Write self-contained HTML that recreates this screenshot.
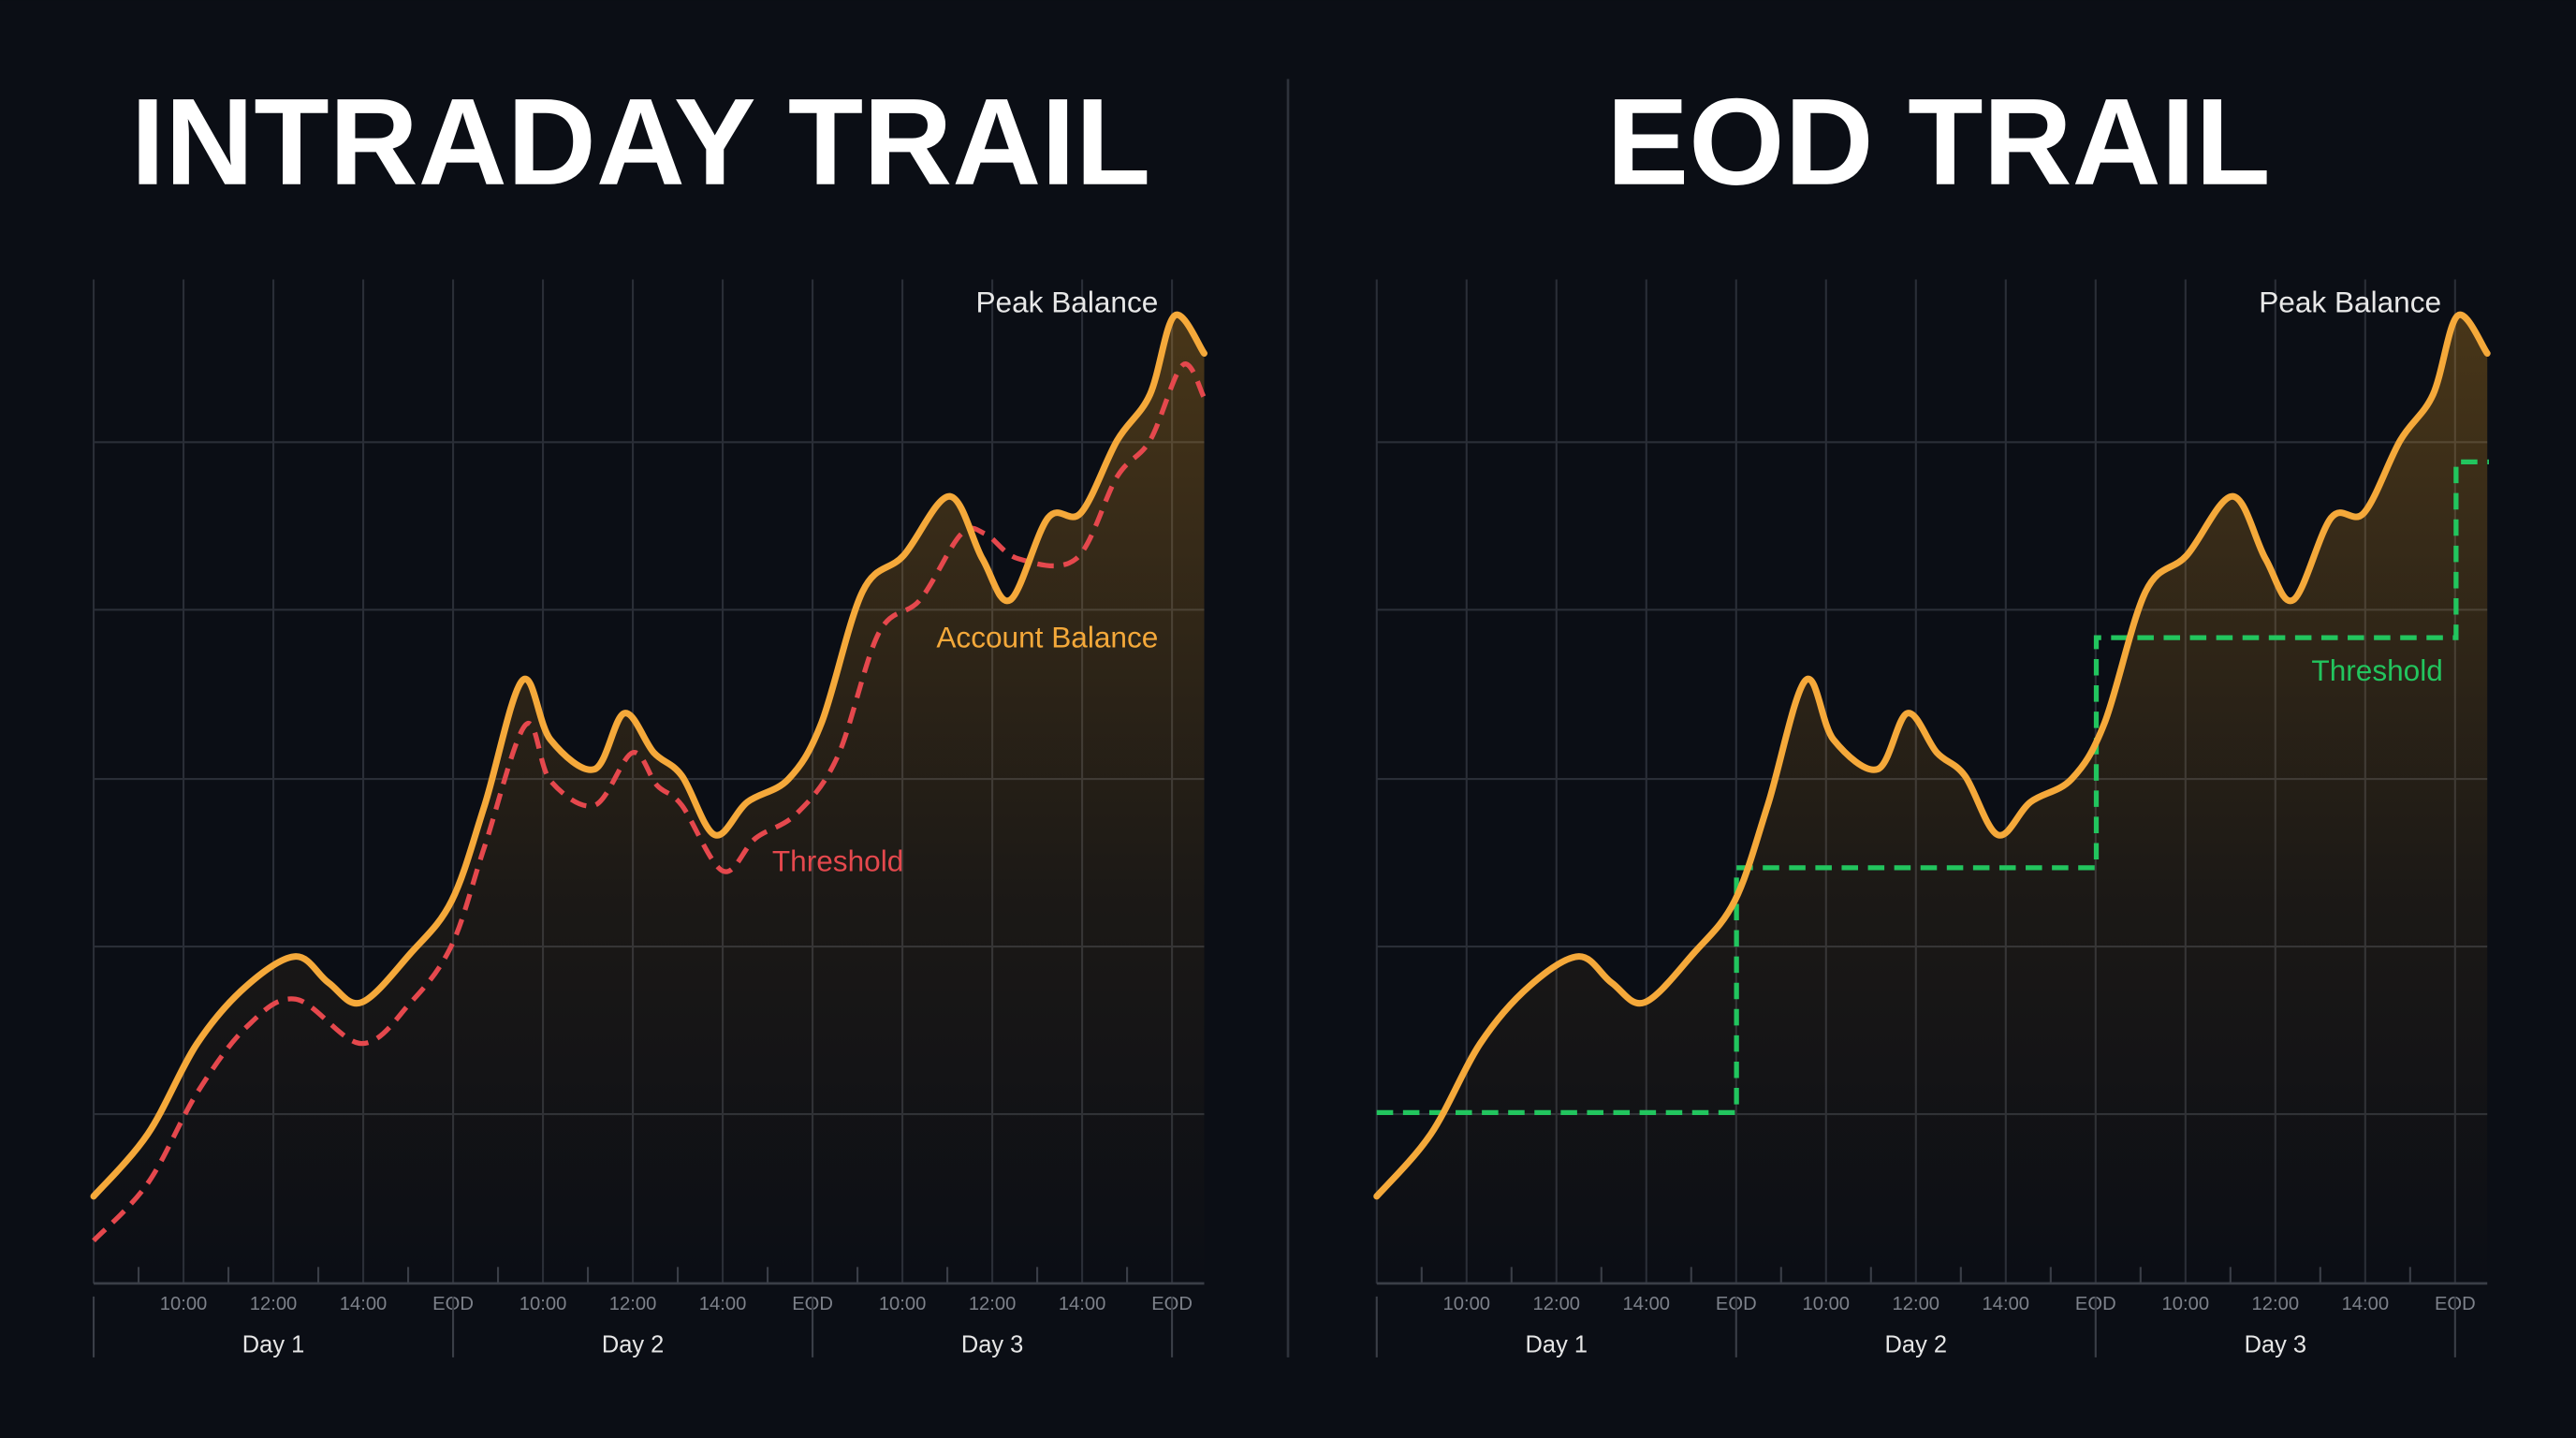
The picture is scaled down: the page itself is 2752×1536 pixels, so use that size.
<!DOCTYPE html>
<html><head><meta charset="utf-8"><style>
html,body{margin:0;padding:0;background:#0b0e15;}
svg{display:block}
text{font-family:"Liberation Sans",sans-serif}
</style></head><body>
<svg id="s" width="2752" height="1536" viewBox="0 0 1568 875" xmlns="http://www.w3.org/2000/svg">
<defs>
<linearGradient id="g" x1="0" y1="0" x2="0" y2="1">
<stop offset="0" stop-color="#f5a623" stop-opacity="0.26"/>
<stop offset="0.6" stop-color="#f5a623" stop-opacity="0.07"/>
<stop offset="1" stop-color="#f5a623" stop-opacity="0"/>
</linearGradient>
</defs>
<rect width="1568" height="875" fill="#0b0e15"/>
<line x1="784" y1="48" x2="784" y2="826" stroke="#2e323b" stroke-width="1.5"/>
<text x="390" y="112" text-anchor="middle" font-size="75" font-weight="bold" fill="#fff">INTRADAY TRAIL</text>
<text x="1180" y="112" text-anchor="middle" font-size="75" font-weight="bold" fill="#fff">EOD TRAIL</text>
<g id="charts"></g>
</svg>
<script>
var NS="http://www.w3.org/2000/svg";
var G=document.getElementById("charts");
function el(t,a,p){var e=document.createElementNS(NS,t);for(var k in a)e.setAttribute(k,a[k]);(p||G).appendChild(e);return e;}
function cr(pts){var d="M"+pts[0][0]+","+pts[0][1];for(var i=0;i<pts.length-1;i++){var p0=pts[i-1]||pts[i],p1=pts[i],p2=pts[i+1],p3=pts[i+2]||p2;
var c1x=p1[0]+(p2[0]-p0[0])/6,c1y=p1[1]+(p2[1]-p0[1])/6,c2x=p2[0]-(p3[0]-p1[0])/6,c2y=p2[1]-(p3[1]-p1[1])/6;
d+=" C"+c1x.toFixed(1)+","+c1y.toFixed(1)+" "+c2x.toFixed(1)+","+c2y.toFixed(1)+" "+p2[0]+","+p2[1];}return d;}
var bal=[[57,728],[90,690],[120,635],[150,600],[180,582],[200,598],[220,610],[250,580],[275,548],[295,490],[318,414],[335,450],[362,468],[380,434],[398,458],[415,472],[435,508],[455,488],[480,474],[500,440],[525,360],[550,338],[578,302],[598,340],[615,365],[638,315],[658,312],[680,268],[700,240],[715,192],[733,215]];
var thr=[[57,755],[90,720],[120,665],[150,625],[180,608],[220,635],[250,610],[275,575],[295,515],[320,441],[335,475],[362,490],[385,458],[400,478],[415,490],[440,530],[460,510],[485,495],[510,460],[535,385],[560,365],[585,325],[600,325],[620,340],[655,340],[680,290],[700,268],[720,222],[733,242]];
function chart(off,right){
 var x0=57+off,x1=733+off;
 var xs=[];for(var i=0;i<=12;i++)xs.push(57+off+i*54.7);
 [269,371,474,576,678].forEach(function(y){el("line",{x1:x0,y1:y,x2:x1,y2:y,stroke:"#2a2e37","stroke-width":1.2});});
 xs.forEach(function(x){el("line",{x1:x,y1:170,x2:x,y2:781,stroke:"#2a2e37","stroke-width":1.2});});
 el("line",{x1:x0,y1:781,x2:x1,y2:781,stroke:"#3a3e47","stroke-width":1.5});
 for(var i=0;i<12;i++){var x=xs[i]+27.35;el("line",{x1:x,y1:771,x2:x,y2:781,stroke:"#3a3e47","stroke-width":1.2});}
 var lab=["10:00","12:00","14:00","EOD"];
 for(var i=1;i<=12;i++){var t=el("text",{x:xs[i],y:797,"text-anchor":"middle","font-size":11.5,fill:"#7d818a"});t.textContent=lab[(i-1)%4];}
 [0,4,8,12].forEach(function(k){el("line",{x1:xs[k],y1:789,x2:xs[k],y2:826,stroke:"#3a3e47","stroke-width":1.2});});
 ["Day 1","Day 2","Day 3"].forEach(function(s,k){var t=el("text",{x:(xs[k*4]+xs[k*4+4])/2,y:823,"text-anchor":"middle","font-size":14.5,fill:"#e6e6e6"});t.textContent=s;});
 var b=bal.map(function(p){return[p[0]+off,p[1]];});
 var d=cr(b);
 el("path",{d:d+" L"+x1+",781 L"+x0+",781 Z",fill:"url(#g)"});
 if(!right){
  el("path",{d:cr(thr),fill:"none",stroke:"#e5484d","stroke-width":3,"stroke-dasharray":"10 6"});
 } else {
  el("path",{d:"M838,677 L1057,677 L1057,528 L1276,528 L1276,388 L1495,388 L1495,281 L1515,281",fill:"none",stroke:"#22c55e","stroke-width":3,"stroke-dasharray":"10 6"});
 }
 el("path",{d:d,fill:"none",stroke:"#f5a93a","stroke-width":4,"stroke-linecap":"round"});
 var t=el("text",{x:x1-28,y:190,"text-anchor":"end","font-size":18,fill:"#e8e8e8"});t.textContent="Peak Balance";
}
chart(0,false);chart(781,true);
function tx(x,y,s,c){var t=el("text",{x:x,y:y,"text-anchor":"end","font-size":18,fill:c});t.textContent=s;}
tx(705,394,"Account Balance","#f5a93a");
tx(550,530,"Threshold","#e5484d");
tx(1487,414,"Threshold","#22c55e");
</script>
</body></html>
